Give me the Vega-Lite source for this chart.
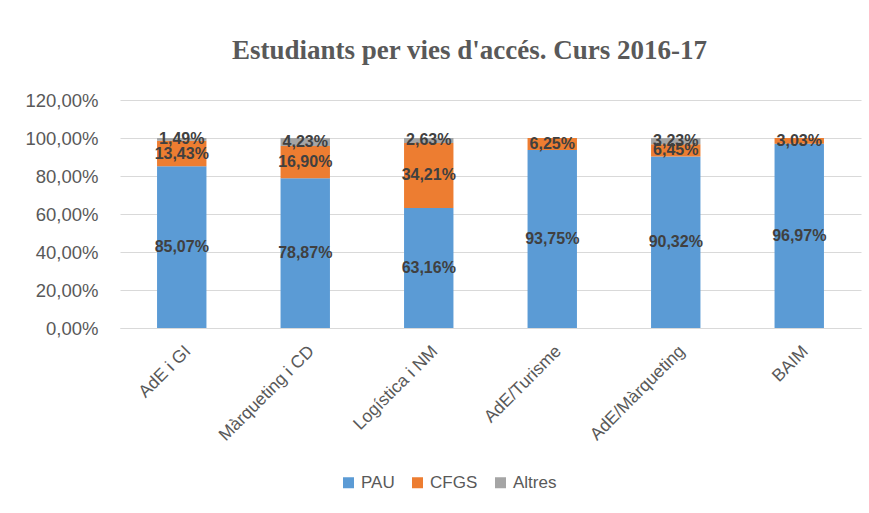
{
  "$schema": "https://vega.github.io/schema/vega-lite/v6.json",
  "width": 741,
  "height": 228,
  "autosize": {"type": "none"},
  "padding": {"left": 120, "top": 100, "right": 8, "bottom": 185},
  "background": "white",
  "title": {
    "text": "Estudiants per vies d'accés. Curs 2016-17",
    "font": "Liberation Serif",
    "fontSize": 27,
    "fontWeight": "bold",
    "color": "#595959",
    "anchor": "middle",
    "frame": "group",
    "dx": -21,
    "offset": 26
  },
  "config": {
    "locale": {
      "number": {"decimal": ",", "thousands": ".", "grouping": [3], "currency": ["", " €"]}
    },
    "font": "Liberation Sans",
    "view": {"stroke": null},
    "axis": {"gridColor": "#D9D9D9", "domainColor": "#D9D9D9", "labelColor": "#595959"},
    "axisY": {"labelOverlap": false}
  },
  "data": {
    "values": [
      {"program": "AdE i GI", "via": "PAU", "order": 1, "value": 0.8507},
      {"program": "AdE i GI", "via": "CFGS", "order": 2, "value": 0.1343},
      {"program": "AdE i GI", "via": "Altres", "order": 3, "value": 0.0149},
      {"program": "Màrqueting i CD", "via": "PAU", "order": 1, "value": 0.7887},
      {"program": "Màrqueting i CD", "via": "CFGS", "order": 2, "value": 0.1690},
      {"program": "Màrqueting i CD", "via": "Altres", "order": 3, "value": 0.0423},
      {"program": "Logística i NM", "via": "PAU", "order": 1, "value": 0.6316},
      {"program": "Logística i NM", "via": "CFGS", "order": 2, "value": 0.3421},
      {"program": "Logística i NM", "via": "Altres", "order": 3, "value": 0.0263},
      {"program": "AdE/Turisme", "via": "PAU", "order": 1, "value": 0.9375},
      {"program": "AdE/Turisme", "via": "CFGS", "order": 2, "value": 0.0625},
      {"program": "AdE/Turisme", "via": "Altres", "order": 3, "value": 0},
      {"program": "AdE/Màrqueting", "via": "PAU", "order": 1, "value": 0.9032},
      {"program": "AdE/Màrqueting", "via": "CFGS", "order": 2, "value": 0.0645},
      {"program": "AdE/Màrqueting", "via": "Altres", "order": 3, "value": 0.0323},
      {"program": "BAIM", "via": "PAU", "order": 1, "value": 0.9697},
      {"program": "BAIM", "via": "CFGS", "order": 2, "value": 0.0303},
      {"program": "BAIM", "via": "Altres", "order": 3, "value": 0}
    ]
  },
  "transform": [
    {"stack": "value", "groupby": ["program"], "sort": [{"field": "order", "order": "ascending"}], "as": ["v0", "v1"]},
    {"calculate": "(datum.v0 + datum.v1) / 2", "as": "mid"}
  ],
  "encoding": {
    "x": {
      "field": "program",
      "type": "nominal",
      "sort": ["AdE i GI", "Màrqueting i CD", "Logística i NM", "AdE/Turisme", "AdE/Màrqueting", "BAIM"],
      "scale": {"paddingInner": 0.6, "paddingOuter": 0.3},
      "axis": {"title": null, "labelAngle": -45, "labelFontSize": 17.5, "ticks": false, "labelPadding": 14, "domainColor": "#D9D9D9", "labelOverlap": false}
    }
  },
  "layer": [
    {
      "mark": {"type": "bar"},
      "encoding": {
        "y": {
          "field": "v1",
          "type": "quantitative",
          "scale": {"domain": [0, 1.2], "nice": false},
          "axis": {"title": null, "values": [0, 0.2, 0.4, 0.6, 0.8, 1.0, 1.2], "format": ".2%", "labelFontSize": 18.5, "labelColor": "#595959", "ticks": false, "domain": false, "labelPadding": 22, "labelOverlap": false}
        },
        "y2": {"field": "v0"},
        "color": {
          "field": "via",
          "type": "nominal",
          "scale": {"domain": ["PAU", "CFGS", "Altres"], "range": ["#5B9BD5", "#ED7D31", "#A5A5A5"]},
          "legend": {
            "title": null,
            "orient": "none",
            "direction": "horizontal",
            "legendX": 220,
            "legendY": 374,
            "symbolType": "square",
            "symbolSize": 121,
            "labelFontSize": 17,
            "labelOffset": 4,
            "labelColor": "#595959",
            "columnPadding": 14,
            "symbolStrokeWidth": 0
          }
        }
      }
    },
    {
      "transform": [{"filter": "datum.value > 0"}],
      "mark": {"type": "text", "fontWeight": "bold", "fontSize": 16, "color": "#404040", "baseline": "middle"},
      "encoding": {
        "y": {"field": "mid", "type": "quantitative", "axis": {"title": null, "values": [0, 0.2, 0.4, 0.6, 0.8, 1.0, 1.2], "format": ".2%", "labelFontSize": 18.5, "labelColor": "#595959", "ticks": false, "domain": false, "labelPadding": 22, "labelOverlap": false}},
        "text": {"field": "value", "type": "quantitative", "format": ".2%"}
      }
    }
  ]
}
